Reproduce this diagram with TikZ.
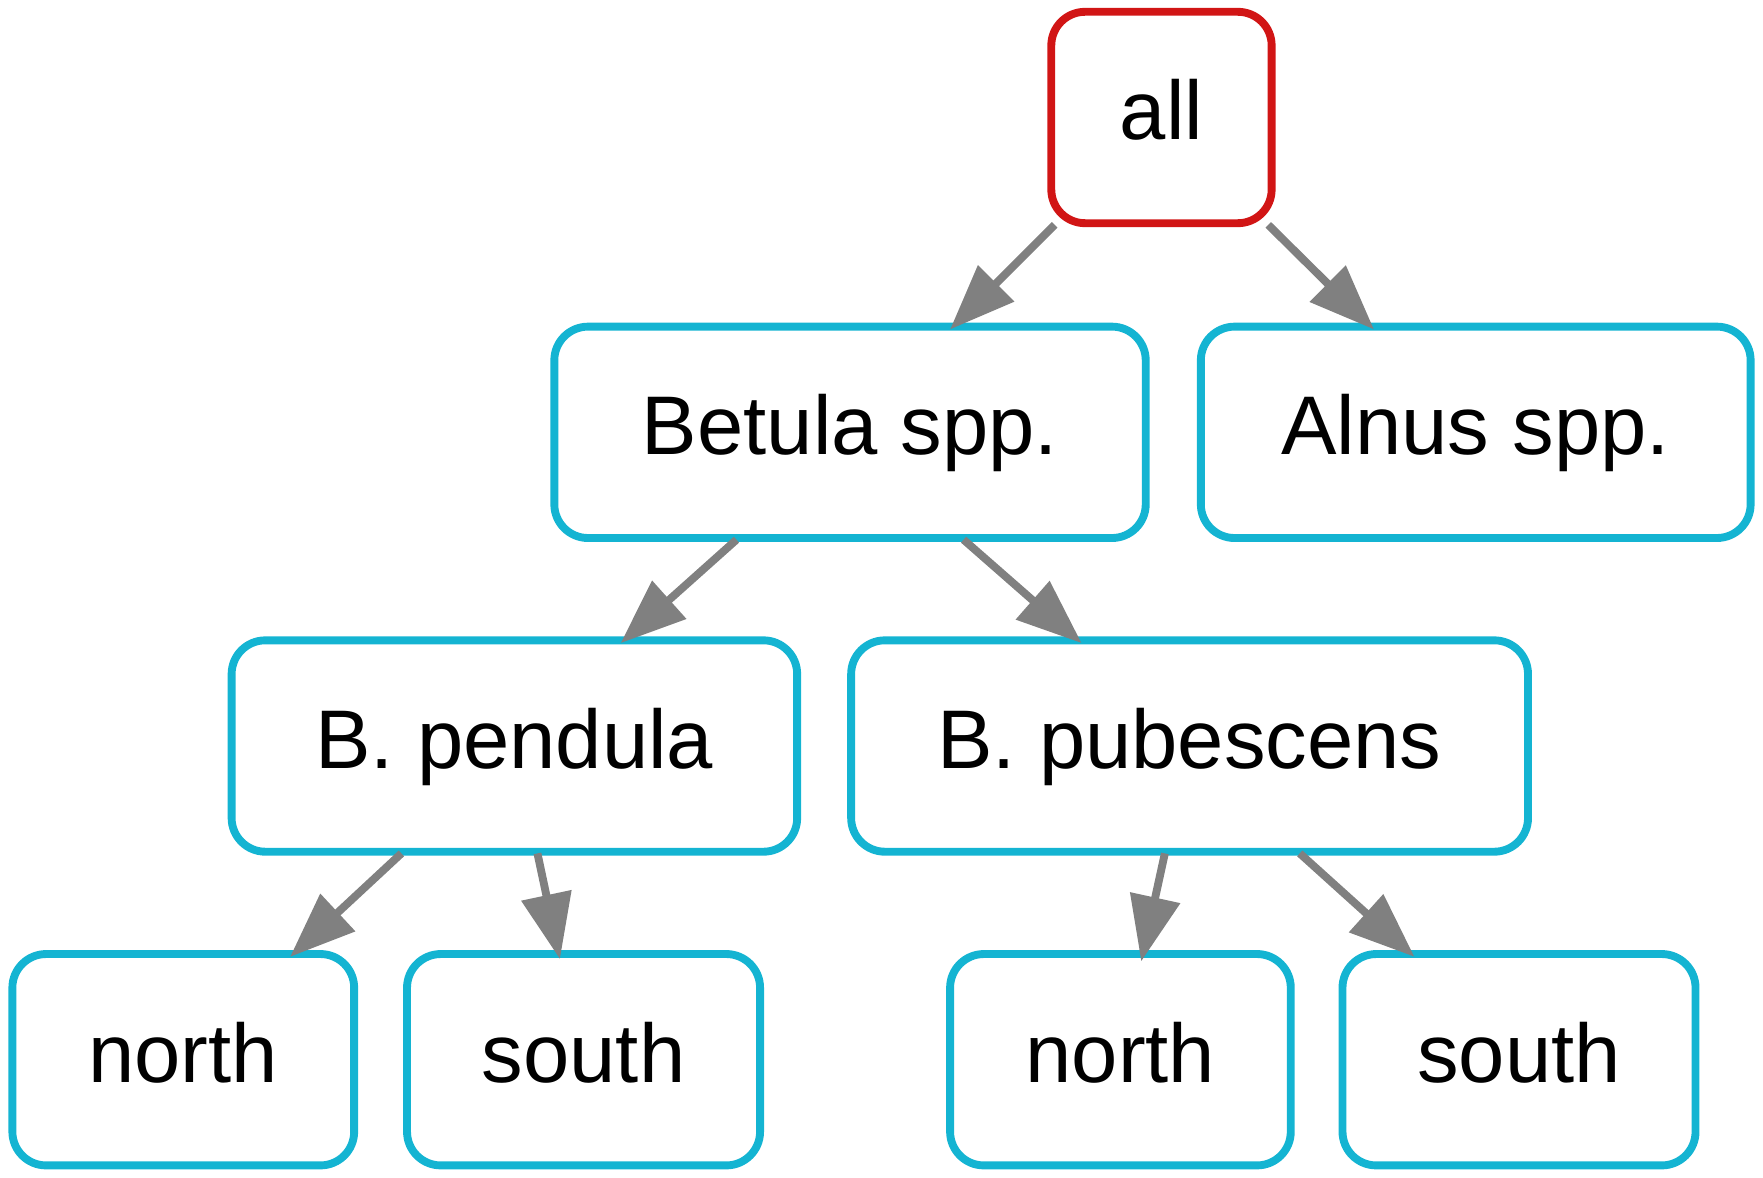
\documentclass[tikz,border=0pt]{standalone}
\usepackage{fontspec}
\setmainfont{Liberation Sans}
\usetikzlibrary{arrows.meta}
\definecolor{rootred}{HTML}{D11515}
\definecolor{boxblue}{HTML}{14B4D2}
\definecolor{edgegray}{HTML}{808080}
\begin{document}
\begin{tikzpicture}[x=1pt,y=-1pt,
  box/.style={draw=boxblue, line width=7pt, rounded corners=30pt, fill=white,
    minimum height=188pt, inner sep=0pt, text height=56pt, text depth=16pt,
    font=\fontsize{74}{74}\selectfont},
  rootbox/.style={box, draw=rootred},
  edge/.style={draw=edgegray, line width=7pt,
    -{Triangle[length=58pt,width=44pt]}}]
\useasboundingbox (0,0) rectangle (1568,1047);
\node[rootbox, minimum width=196pt] (all) at (1033,104.5) {all};
\node[box, minimum width=526pt] (bet) at (756,384.5) {Betula spp.};
\node[box, minimum width=489pt] (aln) at (1312.5,384.5) {Alnus spp.};
\node[box, minimum width=503pt] (pen) at (457.5,663.5) {B. pendula};
\node[box, minimum width=602pt] (pub) at (1058,663.5) {B. pubescens};
\node[box, minimum width=304pt] (n1) at (163,942.5) {north};
\node[box, minimum width=314pt] (s1) at (519,942.5) {south};
\node[box, minimum width=303pt] (n2) at (996.5,942.5) {north};
\node[box, minimum width=314pt] (s2) at (1351,942.5) {south};
\draw[edge] ([xshift=-95pt,yshift=2pt]all.south) -- ([xshift=89pt,yshift=-6pt]bet.north);
\draw[edge] ([xshift=95pt,yshift=2pt]all.south) -- ([xshift=-90.5pt,yshift=-6pt]aln.north);
\draw[edge] ([xshift=-101pt,yshift=2pt]bet.south) -- ([xshift=94.5pt,yshift=-6pt]pen.north);
\draw[edge] ([xshift=101pt,yshift=2pt]bet.south) -- ([xshift=-96pt,yshift=-6pt]pub.north);
\draw[edge] ([xshift=-100.5pt,yshift=2pt]pen.south) -- ([xshift=95pt,yshift=-6pt]n1.north);
\draw[edge] ([xshift=20.5pt,yshift=2pt]pen.south) -- ([xshift=-21pt,yshift=-8pt]s1.north);
\draw[edge] ([xshift=-22pt,yshift=2pt]pub.south) -- ([xshift=18.5pt,yshift=-10pt]n2.north);
\draw[edge] ([xshift=98pt,yshift=2pt]pub.south) -- ([xshift=-93pt,yshift=-6pt]s2.north);
\end{tikzpicture}
\end{document}
